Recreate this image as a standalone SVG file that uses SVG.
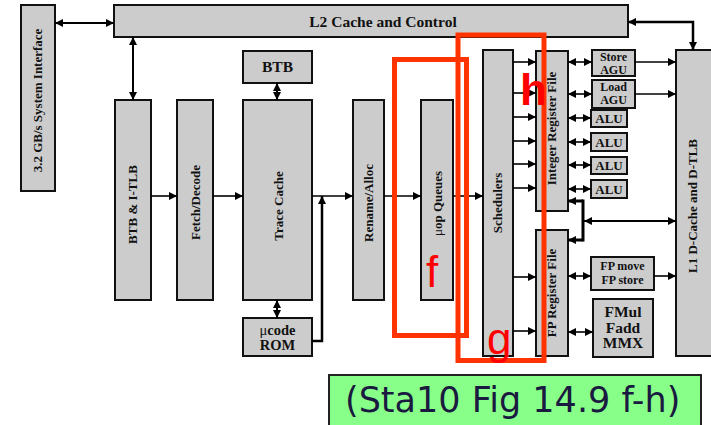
<svg xmlns="http://www.w3.org/2000/svg" width="711" height="425" viewBox="0 0 711 425">
<style>
.b{fill:#cccccc;stroke:#111;stroke-width:2}
.t{font-family:"Liberation Serif","Times New Roman",serif;font-weight:bold;fill:#111;text-anchor:middle}
.s13{font-size:13px}
.s12{font-size:12px}
.s15{font-size:15.5px}
.c{fill:none;stroke:#000;stroke-width:1.6}
.k{fill:none;stroke:#000;stroke-width:3}
.r{fill:none;stroke:#ff3300;stroke-width:5}
.rl{font-family:"Liberation Sans",Arial,sans-serif;font-size:44px;fill:#ff0000}
</style>
<defs>
<marker id="a" viewBox="0 0 10 10" refX="10" refY="5" markerWidth="9" markerHeight="8" orient="auto-start-reverse" markerUnits="userSpaceOnUse"><path d="M0,0 L10,5 L0,10 z" fill="#000"/></marker>
</defs>
<rect width="711" height="425" fill="#fff"/>

<g id="sysif"><rect class="b" x="21" y="5" width="34" height="186"/><text class="t s13" transform="translate(42,100.5) rotate(-90)">3.2 GB/s System Interface</text></g>
<g id="l2"><rect class="b" x="114" y="5" width="514" height="32"/><text class="t s15" x="383" y="27">L2 Cache and Control</text></g>
<g id="btbitlb"><rect class="b" x="115" y="100" width="36" height="200"/><text class="t s13" transform="translate(137,204.5) rotate(-90)">BTB &amp; I-TLB</text></g>
<g id="fetch"><rect class="b" x="177" y="100" width="36" height="200"/><text class="t s13" transform="translate(200,202.5) rotate(-90)">Fetch/Decode</text></g>
<g id="btb"><rect class="b" x="243" y="51" width="69" height="32"/><text class="t s15" x="277.5" y="72">BTB</text></g>
<g id="trace"><rect class="b" x="243" y="100" width="69" height="200"/><text class="t s13" transform="translate(283,206) rotate(-90)">Trace Cache</text></g>
<g id="rom"><rect class="b" x="243" y="318" width="69" height="38"/><text class="t" style="font-size:14.5px" x="277.5" y="335"><tspan font-weight="normal">μ</tspan>code</text><text class="t" style="font-size:14.5px" x="277.5" y="350">ROM</text></g>
<g id="rename"><rect class="b" x="353" y="100" width="31" height="200"/><text class="t s13" transform="translate(373,203) rotate(-90)">Rename/Alloc</text></g>
<g id="uopq"><rect class="b" x="421" y="100" width="32" height="200"/><text class="t s13" transform="translate(442,203.5) rotate(-90)"><tspan font-weight="normal">μ</tspan>op Queues</text></g>
<g id="sched"><rect class="b" x="483" y="50" width="30" height="306"/><text class="t s13" transform="translate(502,203) rotate(-90)">Schedulers</text></g>
<g id="intreg"><rect class="b" x="536" y="51" width="32" height="160"/><text class="t s13" transform="translate(556,128.5) rotate(-90)">Integer Register File</text></g>
<g id="fpreg"><rect class="b" x="536" y="230" width="32" height="126"/><text class="t s13" transform="translate(556,293) rotate(-90)">FP Register File</text></g>
<g id="storeagu"><rect class="b" x="592" y="50" width="43" height="26"/><text class="t s12" x="613.5" y="61">Store</text><text class="t s12" x="613.5" y="73.5">AGU</text></g>
<g id="loadagu"><rect class="b" x="592" y="80" width="43" height="28"/><text class="t s12" x="613.5" y="91">Load</text><text class="t s12" x="613.5" y="104">AGU</text></g>
<g id="alu1"><rect class="b" x="591" y="110" width="36" height="17"/><text class="t s13" x="609" y="123">ALU</text></g>
<g id="alu2"><rect class="b" x="591" y="133" width="36" height="18"/><text class="t s13" x="609" y="147">ALU</text></g>
<g id="alu3"><rect class="b" x="591" y="157" width="36" height="17"/><text class="t s13" x="609" y="170">ALU</text></g>
<g id="alu4"><rect class="b" x="591" y="180" width="36" height="18"/><text class="t s13" x="609" y="194">ALU</text></g>
<g id="fpmove"><rect class="b" x="591" y="257" width="63" height="33"/><text class="t s12" x="622.5" y="270">FP move</text><text class="t s12" x="622.5" y="283.5">FP store</text></g>
<g id="fmul"><rect class="b" x="593" y="299" width="60" height="58"/><text class="t s15" x="623" y="317">FMul</text><text class="t s15" x="623" y="332.5">Fadd</text><text class="t s15" x="623" y="348">MMX</text></g>
<g id="l1"><rect class="b" x="676" y="50" width="40" height="306"/><text class="t s13" transform="translate(697,206) rotate(-90)">L1 D-Cache and D-TLB</text></g>

<g id="connectors">
<path class="c" style="stroke-width:2" d="M55,23 H114" marker-start="url(#a)" marker-end="url(#a)"/>
<path class="c" style="stroke-width:2" d="M133,37 V100" marker-start="url(#a)" marker-end="url(#a)"/>
<path class="c" d="M151,196 H177" marker-end="url(#a)"/>
<path class="c" d="M213,196 H243" marker-end="url(#a)"/>
<path class="c" style="stroke-width:2" d="M277,83 V100" marker-start="url(#a)" marker-end="url(#a)"/>
<path class="c" style="stroke-width:2" d="M277,300 V318" marker-start="url(#a)" marker-end="url(#a)"/>
<path class="c" d="M312,196 H353" marker-end="url(#a)"/>
<path class="c" style="stroke-width:2.5" d="M312,341 H322 V196" marker-end="url(#a)"/>
<path class="c" d="M384,196 H421" marker-end="url(#a)"/>
<path class="c" d="M453,196 H483" marker-end="url(#a)"/>
<path class="c" d="M513,62 H536" marker-end="url(#a)"/>
<path class="c" d="M513,93 H536" marker-end="url(#a)"/>
<path class="c" d="M513,117 H536" marker-end="url(#a)"/>
<path class="c" d="M513,141 H536" marker-end="url(#a)"/>
<path class="c" d="M513,164 H536" marker-end="url(#a)"/>
<path class="c" d="M513,188 H536" marker-end="url(#a)"/>
<path class="c" d="M513,277 H536" marker-end="url(#a)"/>
<path class="c" d="M513,331 H536" marker-end="url(#a)"/>
<path class="c" d="M568,62 H592" marker-start="url(#a)" marker-end="url(#a)"/>
<path class="c" d="M568,94 H592" marker-start="url(#a)" marker-end="url(#a)"/>
<path class="c" d="M568,118 H591" marker-start="url(#a)" marker-end="url(#a)"/>
<path class="c" d="M568,142 H591" marker-start="url(#a)" marker-end="url(#a)"/>
<path class="c" d="M568,165 H591" marker-start="url(#a)" marker-end="url(#a)"/>
<path class="c" d="M568,189 H591" marker-start="url(#a)" marker-end="url(#a)"/>
<path class="c" d="M635,62 H676" marker-end="url(#a)"/>
<path class="c" d="M635,94 H676" marker-end="url(#a)"/>
<path class="c" style="stroke-width:2.5" d="M628,22 H693 V50" marker-start="url(#a)" marker-end="url(#a)"/>
<path class="k" d="M583,199.5 V241.5"/>
<path class="k" d="M583,201 H568" marker-end="url(#a)"/>
<path class="k" d="M583,240 H568" marker-end="url(#a)"/>
<path class="c" style="stroke-width:2" d="M584,221 H676" marker-start="url(#a)" marker-end="url(#a)"/>
<path class="c" d="M568,276 H591" marker-start="url(#a)" marker-end="url(#a)"/>
<path class="c" d="M568,332 H593" marker-start="url(#a)" marker-end="url(#a)"/>
<path class="c" d="M654,276 H676" marker-end="url(#a)"/>
</g>

<rect class="r" x="394.5" y="59.5" width="72" height="276"/>
<rect class="r" x="458" y="35" width="86" height="325.5"/>
<text class="rl" x="520" y="105" font-weight="bold">h</text>
<text class="rl" x="426" y="287">f</text>
<text class="rl" x="487" y="354">g</text>

<rect x="329" y="375" width="372" height="55" fill="#88ff88" stroke="#222" stroke-width="2"/>
<text x="345" y="412" style="font-family:'DejaVu Sans',Verdana,sans-serif;font-size:35px;fill:#1a1a40">(Sta10 Fig 14.9 f-h)</text>
</svg>
